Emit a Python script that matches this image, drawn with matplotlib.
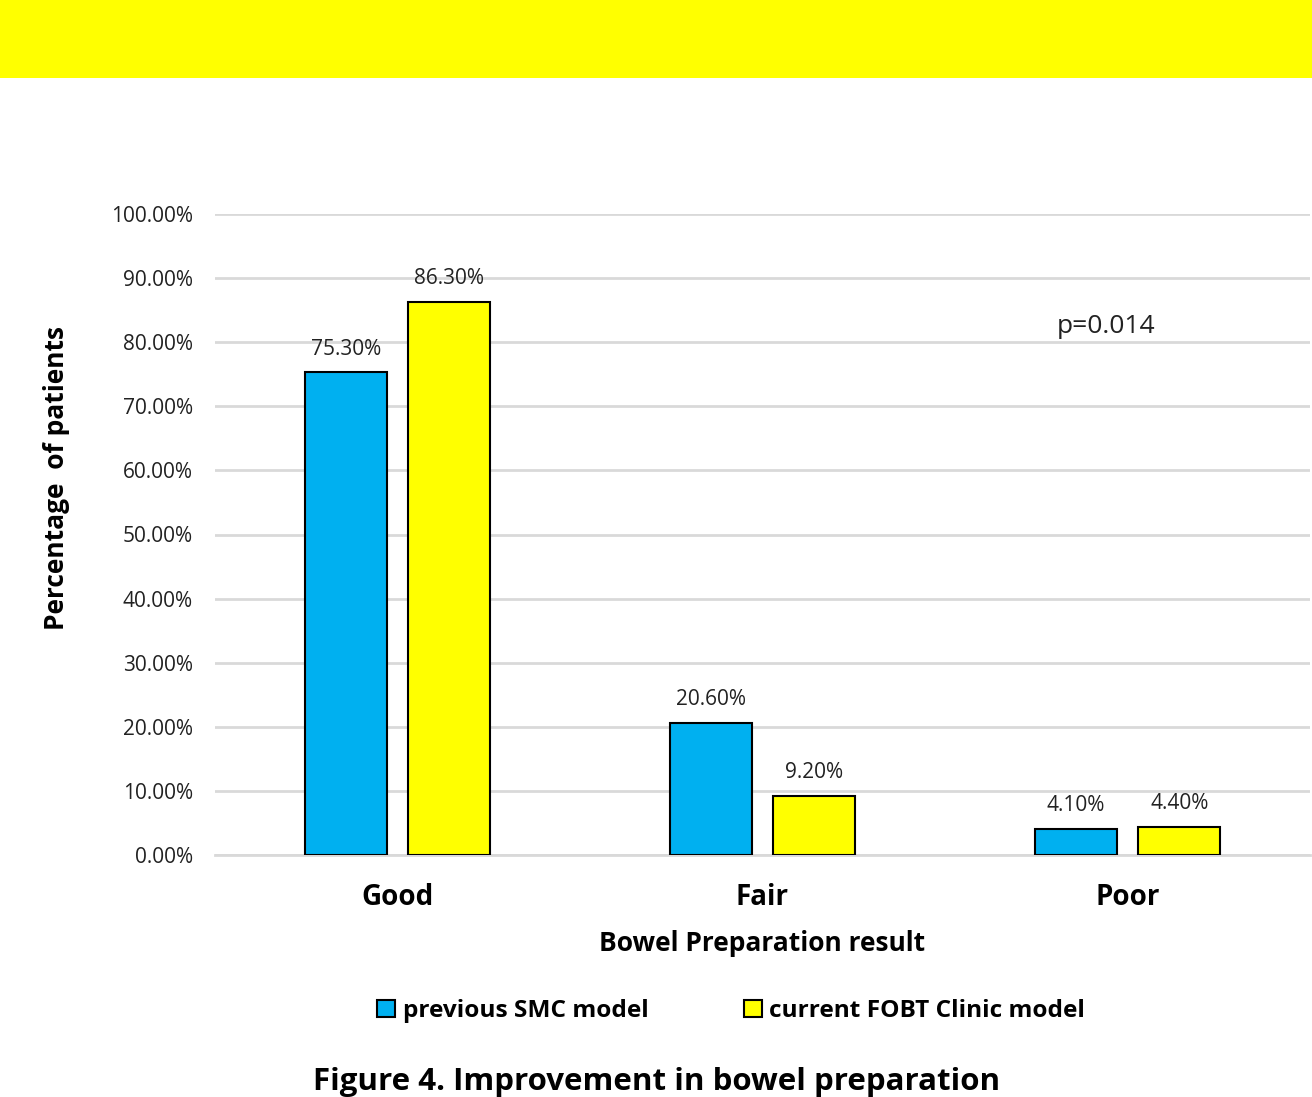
import matplotlib.pyplot as plt
import numpy as np
from matplotlib.patches import Patch, Rectangle

plt.rcParams['font.family'] = ['Open Sans', 'DejaVu Sans']

categories = ["Good", "Fair", "Poor"]
previous_smc = [75.3, 20.6, 4.1]
current_fobt = [86.3, 9.2, 4.4]
series_names = ["previous SMC model", "current FOBT Clinic model"]
yticks = [0, 10, 20, 30, 40, 50, 60, 70, 80, 90, 100]

BLUE = "#00B0F0"
YELLOW = "#FFFF00"
GRID = "#D9D9D9"

fig = plt.figure(figsize=(13.12, 10.97), dpi=100)
fig.patches.append(Rectangle((0, 1 - 78 / 1097), 1, 78 / 1097, transform=fig.transFigure,
                             facecolor=YELLOW, edgecolor="none", zorder=0))

ax = fig.add_axes([215 / 1312, 1 - 855 / 1097, 1095 / 1312, 641 / 1097])
x = np.arange(len(categories))
w, off = 0.225, 0.142
b1 = ax.bar(x - off, previous_smc, w, color=BLUE, edgecolor="black", linewidth=1.5, zorder=3)
b2 = ax.bar(x + off, current_fobt, w, color=YELLOW, edgecolor="black", linewidth=1.5, zorder=3)

for bars, vals in ((b1, previous_smc), (b2, current_fobt)):
    for b, v in zip(bars, vals):
        ax.text(b.get_x() + b.get_width() / 2, v + 2.0, f"{v:.2f}%", ha="center", va="bottom",
                fontsize=15, color="#222222")

ax.set_xlim(-0.5, 2.5)
ax.set_ylim(0, 100)
ax.set_yticks(yticks)
ax.set_yticklabels([f"{t:.2f}%" for t in yticks], fontsize=15, color="#222222")
ax.set_xticks(x)
ax.set_xticklabels(categories, fontsize=20, fontweight="bold")
ax.tick_params(axis="both", length=0)
ax.tick_params(axis="y", pad=16)
ax.tick_params(axis="x", pad=20)
ax.grid(axis="y", color=GRID, linewidth=2, zorder=0)
for s in ("top", "right", "left"):
    ax.spines[s].set_visible(False)
ax.spines["bottom"].set_color(GRID)
ax.spines["bottom"].set_linewidth(2)

ax.set_xlabel("Bowel Preparation result", fontsize=19, fontweight="bold", labelpad=13)
ax.set_ylabel("Percentage  of patients", fontsize=19, fontweight="bold")
ax.yaxis.set_label_coords(-0.132, 0.588)

ax.text(1.941, 82.5, "p=0.014", fontsize=19, ha="center", va="center", color="#222222")

handles = [Patch(facecolor=BLUE, edgecolor="black", linewidth=1.5),
           Patch(facecolor=YELLOW, edgecolor="black", linewidth=1.5)]
fig.legend(handles, series_names, loc="center", bbox_to_anchor=(731 / 1312, 1 - 1011 / 1097),
           ncol=2, frameon=False, prop={"weight": "bold", "size": 17.6},
           handlelength=0.75, handleheight=0.75, handletextpad=0.3, columnspacing=3.9)

fig.text(657 / 1312, 1 - 1082 / 1097, "Figure 4. Improvement in bowel preparation",
         ha="center", va="center", fontsize=22.5, fontweight="bold")

fig.savefig("out.png", dpi=100)
